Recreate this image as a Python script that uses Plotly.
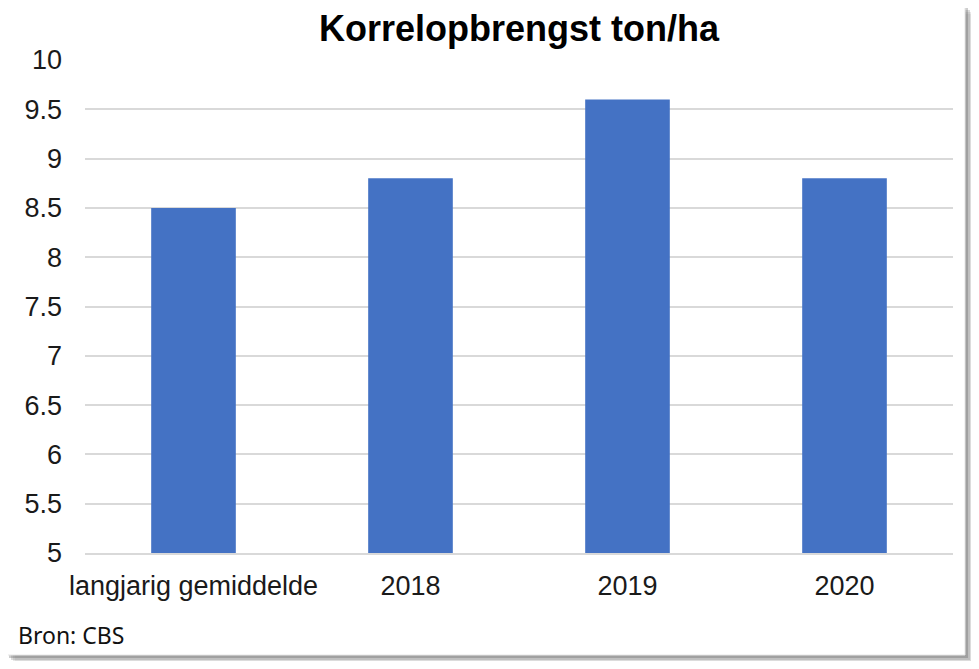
import plotly.graph_objects as go

# data
categories = ["langjarig gemiddelde", "2018", "2019", "2020"]
yield_ton_ha = [8.5, 8.8, 9.6, 8.8]
y_ticks = [5, 5.5, 6, 6.5, 7, 7.5, 8, 8.5, 9, 9.5, 10]
y_tick_labels = ["5", "5.5", "6", "6.5", "7", "7.5", "8", "8.5", "9", "9.5", "10"]

# the browser body adds an 8px margin, so lay out in page pixels and shift
OFF = 8
W, H = 979 - 2 * OFF, 669 - 2 * OFF
PLOT_X0, PLOT_X1, PLOT_Y0, PLOT_Y1 = 85, 953, 60, 553  # page px
L, R = PLOT_X0 - OFF, W - (PLOT_X1 - OFF)
T, B = PLOT_Y0 - OFF, H - (PLOT_Y1 - OFF)


def px_x(x):
    return (x - PLOT_X0) / (PLOT_X1 - PLOT_X0)


def px_y(y):
    return (PLOT_Y1 - y) / (PLOT_Y1 - PLOT_Y0)


fig = go.Figure(go.Bar(x=categories, y=yield_ton_ha,
                       marker=dict(color="#4472C4", line=dict(width=0)),
                       hoverinfo="x+y"))

# card with soft drop shadow
shapes = []
for off, op in [(11, 0.08), (9, 0.14), (7, 0.22), (5, 0.30)]:
    shapes.append(dict(type="rect", xref="paper", yref="paper", layer="below",
                       x0=px_x(4 + off), x1=px_x(965 + off - 2),
                       y0=px_y(655 + off - 2), y1=px_y(3 + off),
                       fillcolor=f"rgba(90,90,90,{op})", line=dict(width=0)))
shapes.append(dict(type="rect", xref="paper", yref="paper", layer="below",
                   x0=px_x(4), x1=px_x(965), y0=px_y(655), y1=px_y(3),
                   fillcolor="white", line=dict(color="#e6e6e6", width=1)))

fig.update_layout(
    width=W, height=H,
    margin=dict(l=L, r=R, t=T, b=B),
    paper_bgcolor="white",
    plot_bgcolor="rgba(0,0,0,0)",
    font=dict(family="Liberation Sans, Arial, sans-serif", size=27, color="#1a1a1a"),
    title=dict(text="<b>Korrelopbrengst ton/ha</b>", xref="container",
               x=(519 - OFF) / W, xanchor="center",
               y=1 - (28 - OFF) / H, yanchor="middle",
               font=dict(size=36, color="black")),
    bargap=0.61,
    showlegend=False,
    shapes=shapes,
    annotations=[dict(text="Bron: CBS", xref="paper", yref="paper",
                      x=px_x(16), y=px_y(635), xanchor="left", yanchor="middle",
                      showarrow=False,
                      font=dict(family="Noto Sans, Open Sans, sans-serif", size=23, color="#111111"))],
)
fig.update_xaxes(showgrid=False, showline=True, linecolor="#d9d9d9", linewidth=1.5,
                 ticks="", ticklabelstandoff=8, tickfont=dict(size=27))
fig.update_yaxes(range=[5, 10], tickvals=y_ticks, ticktext=y_tick_labels,
                 showgrid=True, gridcolor="#d9d9d9", gridwidth=1.5,
                 zeroline=False, showline=False, ticks="", ticklabelstandoff=22,
                 tickfont=dict(size=27))

fig.write_html("out.html")
